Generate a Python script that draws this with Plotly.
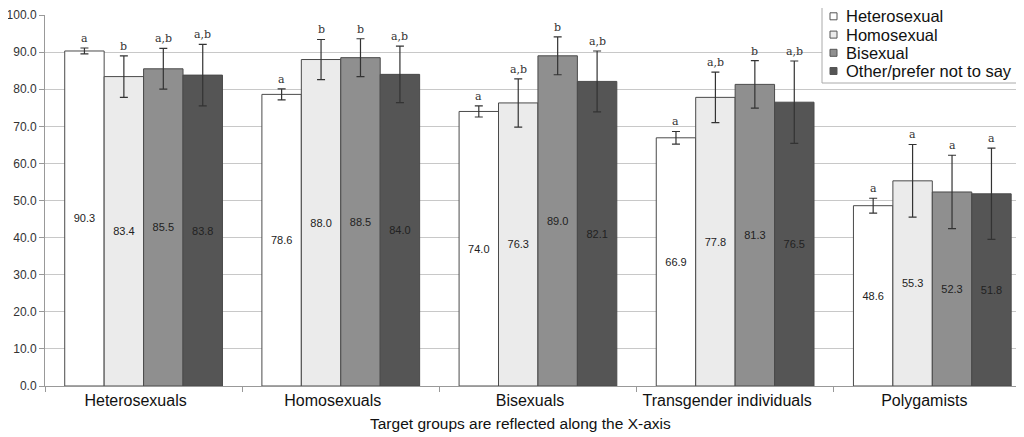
import plotly.graph_objects as go

categories = ["Heterosexuals", "Homosexuals", "Bisexuals", "Transgender individuals", "Polygamists"]
series_names = ["Heterosexual", "Homosexual", "Bisexual", "Other/prefer not to say"]

heterosexual = [90.3, 78.6, 74.0, 66.9, 48.6]
homosexual = [83.4, 88.0, 76.3, 77.8, 55.3]
bisexual = [85.5, 88.5, 89.0, 81.3, 52.3]
other = [83.8, 84.0, 82.1, 76.5, 51.8]

err_heterosexual = [0.8, 1.5, 1.5, 1.7, 2.0]
err_homosexual = [5.6, 5.4, 6.5, 6.8, 9.8]
err_bisexual = [5.5, 5.1, 5.1, 6.4, 9.9]
err_other = [8.3, 7.6, 8.2, 11.1, 12.3]

sig_heterosexual = ["a", "a", "a", "a", "a"]
sig_homosexual = ["b", "b", "a,b", "a,b", "a"]
sig_bisexual = ["a,b", "b", "b", "b", "a"]
sig_other = ["a,b", "a,b", "a,b", "a,b", "a"]

y_ticks = [0, 10, 20, 30, 40, 50, 60, 70, 80, 90, 100]
x_title = "Target groups are reflected along the X-axis"

colors = ["#ffffff", "#ebebeb", "#8f8f8f", "#555555"]
values = [heterosexual, homosexual, bisexual, other]
errors = [err_heterosexual, err_homosexual, err_bisexual, err_other]
sigs = [sig_heterosexual, sig_homosexual, sig_bisexual, sig_other]

# page has an 8px body margin; plot area wanted at window x 45..1024, y 15..386
PAGE_OFF = 8
PL, PR, PT, PB = 45, 1024, 15, 386
W, H = 1024 - PAGE_OFF, 437 - PAGE_OFF


def px(wx):
    return (wx - PL) / (PR - PL)


def py(wy):
    return (PB - wy) / (PB - PT)


fig = go.Figure()
for name, vals, errs, col in zip(series_names, values, errors, colors):
    fig.add_trace(go.Bar(
        x=categories, y=vals, name=name,
        marker=dict(color=col, line=dict(color="#4a4a4a", width=1)),
        error_y=dict(type="data", array=errs, visible=True, color="#333333",
                     thickness=1.2, width=4),
        text=[f"{v:.1f}" for v in vals], textposition="inside",
        insidetextanchor="middle", textangle=0, constraintext="none",
        textfont=dict(size=11, color="#222222", family="Liberation Sans"),
        showlegend=False,
    ))

# significance letters above error bars
offsets = [-0.3, -0.1, 0.1, 0.3]
for s_idx, (vals, errs, letters) in enumerate(zip(values, errors, sigs)):
    for c_idx, (v, e, t) in enumerate(zip(vals, errs, letters)):
        fig.add_annotation(
            x=c_idx + offsets[s_idx], y=v + e, xref="x", yref="y",
            text=t, showarrow=False, yanchor="bottom", yshift=1,
            font=dict(size=11, color="#333333", family="DejaVu Serif"),
        )

# legend box (drawn manually to match the original compact layout)
fig.add_shape(type="rect", xref="paper", yref="paper",
              x0=px(822), x1=px(1034), y0=py(83), y1=py(4),
              fillcolor="white", line=dict(color="#aaaaaa", width=1),
              layer="above")
leg_y = [16.3, 34.6, 52.8, 71.0]
for name, col, wy in zip(series_names, colors, leg_y):
    fig.add_shape(type="rect", xref="paper", yref="paper",
                  x0=px(830), x1=px(837), y0=py(wy + 3.5), y1=py(wy - 3.5),
                  fillcolor=col, line=dict(color="#555555", width=1),
                  layer="above")
    fig.add_annotation(x=px(844), y=py(wy), xref="paper", yref="paper",
                       text=name, showarrow=False, xanchor="left",
                       yanchor="middle",
                       font=dict(size=16.5, color="#111111",
                                 family="Liberation Sans"))

# x axis title
fig.add_annotation(x=px(520), y=py(423), xref="paper", yref="paper",
                   text=x_title, showarrow=False, xanchor="center",
                   yanchor="middle",
                   font=dict(size=15.5, color="#111111", family="Liberation Sans"))

fig.update_layout(
    width=W, height=H,
    margin=dict(l=PL - PAGE_OFF, r=0, t=PT - PAGE_OFF, b=H - (PB - PAGE_OFF),
                autoexpand=False),
    paper_bgcolor="white", plot_bgcolor="white",
    barmode="group", bargap=0.2, bargroupgap=0,
    font=dict(family="Liberation Sans", color="#111111"),
    showlegend=False,
)
fig.update_xaxes(
    type="category", range=[-0.5, 4.465],
    showline=True, linecolor="#999999", linewidth=1,
    ticks="outside", tickson="boundaries", ticklen=5, tickcolor="#999999",
    tickfont=dict(size=16, color="#111111"), ticklabelshift=-8,
    showgrid=False,
)
fig.update_yaxes(
    range=[0, 100], tickvals=y_ticks, tickformat=".1f",
    showline=True, linecolor="#999999", linewidth=1,
    ticks="outside", ticklen=5, tickcolor="#999999",
    tickfont=dict(size=12, color="#333333"),
    showgrid=True, gridcolor="#c8c8c8", gridwidth=1, zeroline=False,
)

fig.write_html("out.html")
